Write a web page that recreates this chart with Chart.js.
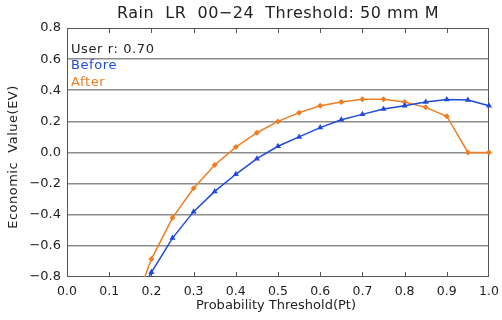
<!DOCTYPE html>
<html lang="en">
<head>
    <meta charset="UTF-8">
    <title>Rain LR 00-24 Economic Value</title>
    <script src="https://cdn.jsdelivr.net/npm/chart.js"></script>
    <style>
        html, body { margin: 0; padding: 0; background: #fff; }
        #wrap { width: 502px; height: 320px; }
    </style>
</head>
<body>
    <div id="wrap"><canvas id="evChart" width="502" height="320"></canvas></div>

    <script>
        // Probability thresholds (Pt) and economic values
        const thresholds = [0.15, 0.20, 0.25, 0.30, 0.35, 0.40, 0.45, 0.50, 0.55, 0.60, 0.65, 0.70, 0.75, 0.80, 0.85, 0.90, 0.95, 1.00];
        const before = [-1.00, -0.77, -0.55, -0.38, -0.25, -0.14, -0.04, 0.04, 0.10, 0.16, 0.21, 0.245, 0.28, 0.30, 0.325, 0.34, 0.337, 0.30];
        const after = [-1.05, -0.685, -0.42, -0.23, -0.08, 0.035, 0.127, 0.20, 0.256, 0.30, 0.324, 0.342, 0.342, 0.324, 0.29, 0.233, 0.0, 0.0];

        const xTicks = [0.0, 0.1, 0.2, 0.3, 0.4, 0.5, 0.6, 0.7, 0.8, 0.9, 1.0];
        const yTicks = [-0.8, -0.6, -0.4, -0.2, 0.0, 0.2, 0.4, 0.6, 0.8];

        const chartTitle = 'Rain  LR  00\u221224  Threshold: 50 mm M';
        const userR = 'User r: 0.70';
        const xTitle = 'Probability Threshold(Pt)';
        const yTitle = 'Economic  Value(EV)';

        const BLUE = '#1f4ad8';
        const ORANGE = '#ee7d22';
        const FONT = '"DejaVu Sans", sans-serif';

        const toPoints = ys => thresholds.map((x, i) => ({ x: x, y: ys[i] }));
        const fmt = v => (Math.abs(v) < 1e-9 ? 0 : v).toFixed(1).replace('-', '\u2212');

        // frame, inner tick marks, title and the in-plot notes
        const decor = {
            id: 'decor',
            beforeDatasetsDraw(chart) {
                const { ctx, chartArea: a, scales } = chart;
                ctx.save();
                ctx.strokeStyle = '#555';
                ctx.lineWidth = 1;
                ctx.strokeRect(a.left + 0.5, a.top + 0.5, a.right - a.left - 1, a.bottom - a.top - 1);
                xTicks.slice(1, -1).forEach(t => {
                    const px = Math.round(scales.x.getPixelForValue(t)) + 0.5;
                    ctx.beginPath();
                    ctx.moveTo(px, a.top); ctx.lineTo(px, a.top + 5);
                    ctx.moveTo(px, a.bottom); ctx.lineTo(px, a.bottom - 5);
                    ctx.stroke();
                });
                ctx.restore();
            },
            afterDraw(chart) {
                const { ctx, chartArea: a } = chart;
                const cx = (a.left + a.right) / 2;
                ctx.save();
                ctx.fillStyle = '#222';
                ctx.textBaseline = 'middle';
                ctx.textAlign = 'center';
                ctx.letterSpacing = '0.5px';
                ctx.font = '16px ' + FONT;
                ctx.fillText(chartTitle, cx, 14);
                ctx.font = '13px ' + FONT;
                ctx.letterSpacing = '0px';
                ctx.fillText(xTitle, 276, 306);
                ctx.save();
                ctx.letterSpacing = '0.5px';
                ctx.translate(14, 157);
                ctx.rotate(-Math.PI / 2);
                ctx.fillText(yTitle, 0, 0);
                ctx.restore();
                ctx.textAlign = 'left';
                ctx.letterSpacing = '0.6px';
                ctx.font = '13px ' + FONT;
                ctx.fillText(userR, a.left + 4, 50);
                ctx.fillStyle = BLUE;
                ctx.fillText('Before', a.left + 4, 66);
                ctx.fillStyle = ORANGE;
                ctx.fillText('After', a.left + 4, 83);
                ctx.restore();
            }
        };

        const ctx = document.getElementById('evChart').getContext('2d');
        new Chart(ctx, {
            type: 'line',
            data: {
                datasets: [{
                    label: 'Before',
                    data: toPoints(before),
                    borderColor: BLUE,
                    backgroundColor: BLUE,
                    borderWidth: 1.5,
                    pointStyle: 'triangle',
                    pointRadius: c => (c.raw && c.raw.y < -0.8 ? 0 : 3.5),
                    pointBorderWidth: 0,
                    tension: 0,
                    clip: { left: 6, right: 6, top: 6, bottom: 0 }
                }, {
                    label: 'After',
                    data: toPoints(after),
                    borderColor: ORANGE,
                    backgroundColor: ORANGE,
                    borderWidth: 1.5,
                    pointStyle: 'rectRot',
                    pointRadius: c => (c.raw && c.raw.y < -0.8 ? 0 : 3),
                    pointBorderWidth: 0,
                    tension: 0,
                    clip: { left: 6, right: 6, top: 6, bottom: 0 }
                }]
            },
            options: {
                responsive: false,
                animation: false,
                layout: { padding: { left: 0, top: 28, right: 13, bottom: 0 } },
                plugins: {
                    legend: { display: false },
                    tooltip: { enabled: false },
                    title: { display: false }
                },
                scales: {
                    x: {
                        type: 'linear',
                        min: 0,
                        max: 1,
                        afterBuildTicks: s => { s.ticks = xTicks.map(v => ({ value: v })); },
                        afterFit: s => { s.height = 43; s.paddingLeft = 0; s.paddingRight = 0; },
                        grid: { display: false, drawTicks: false },
                        border: { display: false },
                        ticks: {
                            padding: 7,
                            maxRotation: 0,
                            autoSkip: false,
                            color: '#222',
                            font: { family: FONT, size: 12.5 },
                            callback: v => fmt(v)
                        }
                    },
                    y: {
                        min: -0.8,
                        max: 0.8,
                        afterBuildTicks: s => { s.ticks = yTicks.map(v => ({ value: v })); },
                        afterFit: s => { s.width = 67; s.paddingTop = 0; s.paddingBottom = 0; },
                        border: { display: false },
                        grid: {
                            drawTicks: false,
                            lineWidth: 1.5,
                            color: c => (c.tick && Math.abs(c.tick.value) > 0.79 ? 'rgba(0,0,0,0)' : '#8c8c8c')
                        },
                        ticks: {
                            padding: 6,
                            autoSkip: false,
                            color: '#222',
                            font: { family: FONT, size: 13 },
                            callback: v => fmt(v)
                        }
                    }
                }
            },
            plugins: [decor]
        });
    </script>
</body>
</html>
